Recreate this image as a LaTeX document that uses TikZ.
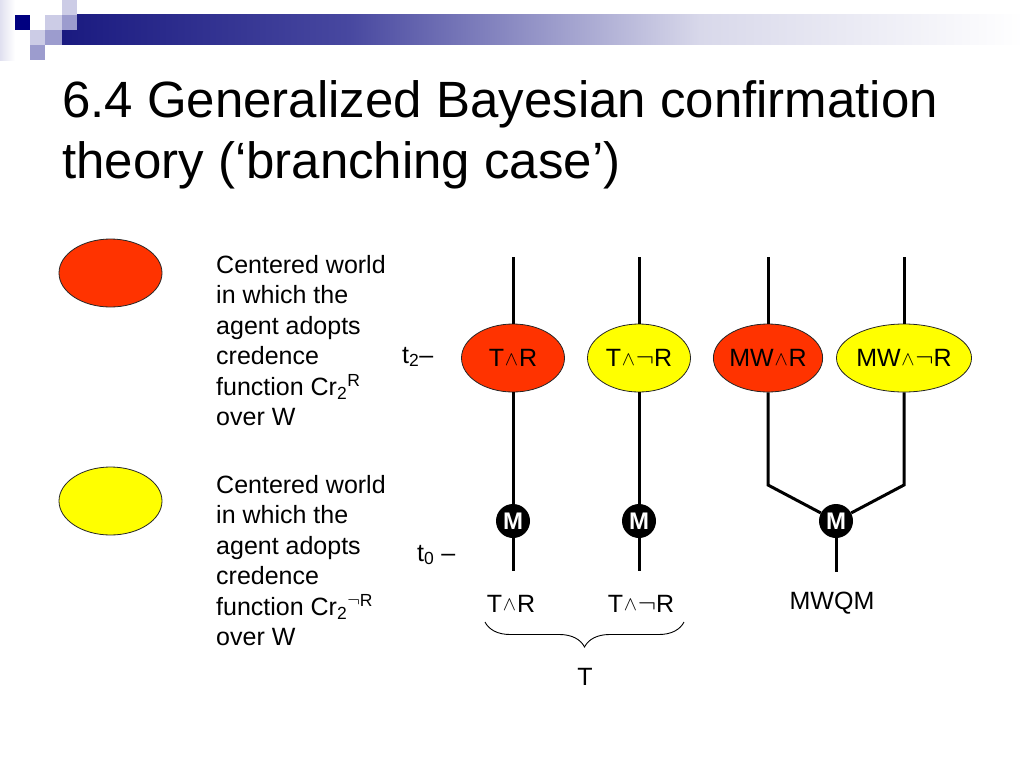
\documentclass[tikz,border=0pt]{standalone}
\usepackage{fontspec}
\usepackage{graphicx}
\setmainfont{Liberation Sans}
\usetikzlibrary{shapes.geometric,decorations.pathreplacing}
\definecolor{redw}{HTML}{FF3300}
\definecolor{yelw}{HTML}{FFFF00}
\definecolor{navyA}{HTML}{1A1A80}
\definecolor{navyB}{HTML}{4848A0}
\definecolor{navyC}{HTML}{D8D8EA}
\definecolor{navyD}{HTML}{000080}
\definecolor{lavL}{HTML}{CCCCE6}
\definecolor{lavM}{HTML}{9C9CCE}
\newcommand\myand{\kern0.03em\raisebox{0.06em}{\scalebox{0.8}{$\wedge$}}\kern0.03em}
\newcommand\myneg{\scalebox{1.1}{$\neg$}}
\begin{document}
\begin{tikzpicture}[x=1pt,y=-1pt,
  world/.style={ellipse, draw=black!85, line width=0.8pt, minimum width=103pt, minimum height=68pt, inner sep=0pt, font=\fontsize{25}{30}\selectfont},
  rworld/.style={world, fill=redw},
  yworld/.style={world, fill=yelw},
  mnode/.style={circle, fill=black, minimum size=34pt, inner sep=0pt, text=white, font=\fontsize{24}{24}\selectfont\bfseries},
  branch/.style={line width=3pt},
  lbl/.style={font=\fontsize{25}{30}\selectfont, inner sep=0pt},
  ttl/.style={font=\fontsize{51}{61}\selectfont, inner sep=0pt, anchor=base west},
  body/.style={font=\fontsize{25}{30.5}\selectfont, inner sep=0pt, align=left, anchor=north west}]
\useasboundingbox (0,0) rectangle (1024,768);
\fill[white] (0,0) rectangle (1024,768);
% header decoration
\shade[left color=lavL!60, right color=white] (0,0) rectangle (15,60);
\shade[left color=navyA, right color=navyB] (62,15) rectangle (350,45);
\shade[left color=navyB, right color=navyC] (349.5,15) rectangle (700,45);
\shade[left color=navyC, right color=white] (699.5,15) rectangle (1024,45);
\fill[navyD] (15,15) rectangle (30,30);
\fill[lavL] (45,15) rectangle (62,30);
\fill[lavM] (62,15) rectangle (77,30);
\fill[lavL] (62,0) rectangle (77,15);
\fill[lavL] (30,30) rectangle (45,45);
\fill[lavM] (45,30) rectangle (62,45);
\fill[lavM] (30,45) rectangle (45,60);
% title
\node[ttl] (title1) at (62,117) {6.4 Generalized Bayesian confirmation};
\node[ttl] (title2) at (62,178) {theory (‘branching case’)};
% legend
\node[rworld] (leg1) at (110.5,273) {};
\node[yworld] (leg2) at (110.5,501) {};
\node[body] (txt1) at (216,255) {Centered world\\in which the\\agent adopts\\credence\\function Cr\textsubscript{2}\textsuperscript{R}\\over W};
\node[body] (txt2) at (216,475) {Centered world\\in which the\\agent adopts\\credence\\function Cr\textsubscript{2}\textsuperscript{\myneg R}\\over W};
% tree
\coordinate (t1) at (513,257);
\coordinate (t2) at (639,257);
\coordinate (t3) at (768,257);
\coordinate (t4) at (904,257);
\coordinate (j3) at (768,485);
\coordinate (j4) at (904,485);
\coordinate (b1) at (513,571);
\coordinate (b2) at (639,571);
\coordinate (b3) at (836,572);
\node[rworld] (e1) at (513,358) {T\myand R};
\node[yworld] (e2) at (639,358) {T\myand\myneg R};
\node[rworld] (e3) at (768,358) {MW\myand R};
\node[yworld] (e4) at (904,358) {MW\myand\myneg R};
\node[mnode] (m1) at (513,521) {M};
\node[mnode] (m2) at (639,521) {M};
\node[mnode] (m3) at (836,521) {M};
\draw[branch] (t1) -- (e1) -- (m1) -- (b1);
\draw[branch] (t2) -- (e2) -- (m2) -- (b2);
\draw[branch] (t3) -- (e3);
\draw[branch] (t4) -- (e4);
\draw[branch] (e3) -- (j3) -- (m3);
\draw[branch] (e4) -- (j4) -- (m3);
\draw[branch] (m3) -- (b3);
% time labels
\node[lbl, anchor=base west] (tt2) at (402,363) {t\textsubscript{2}–};
\node[lbl, anchor=base west] (tt0) at (417,561) {t\textsubscript{0} –};
% bottom labels
\node[lbl] (l1) at (511,603.5) {T\myand R};
\node[lbl] (l2) at (641,603.5) {T\myand\myneg R};
\node[lbl] (l3) at (832,603.5) {MWQM};
\coordinate (br1) at (485,622);
\coordinate (br2) at (684,622);
\draw[line width=0.9pt, decorate, decoration={brace, mirror, amplitude=25pt}] (br1) -- (br2);
\node[lbl] (lT) at (585,677) {T};
\end{tikzpicture}
\end{document}
